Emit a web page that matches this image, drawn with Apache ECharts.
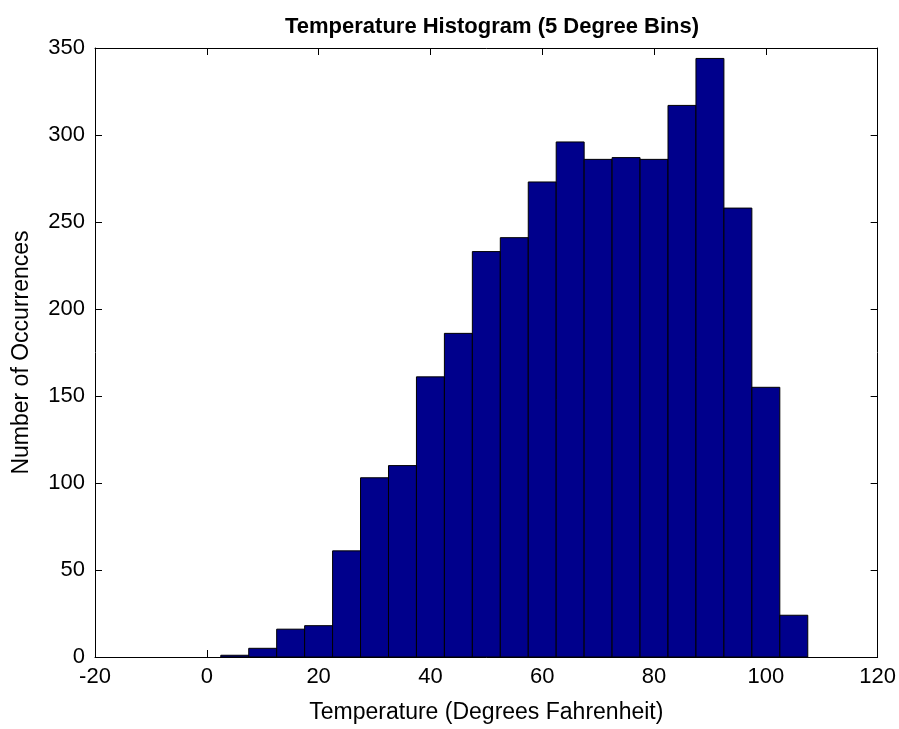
<!DOCTYPE html>
<html><head><meta charset="utf-8">
<script src="https://cdn.jsdelivr.net/npm/echarts@6/dist/echarts.min.js"></script>
<style>html,body{margin:0;padding:0;background:#fff}#c{width:899px;height:729px}</style>
</head><body><div id="c"></div>
<script>
const binCenters = [5,10,15,20,25,30,35,40,45,50,55,60,65,70,75,80,85,90,95,100,105];
const counts = [1,5,16,18,61,103,110,161,186,233,241,273,296,286,287,286,317,344,258,155,24];
const binWidth = 5;
const xTicks = [-20,0,20,40,60,80,100,120];
const yTicks = [0,50,100,150,200,250,300,350];

const chart = echarts.init(document.getElementById('c'));
const FONT = 'Liberation Sans';
const lbl = {color:'#000', fontFamily:FONT, fontSize:22};
const line = {show:true, onZero:false, lineStyle:{color:'#000', width:1}};
const tick = {show:true, inside:true, length:7, lineStyle:{color:'#000', width:1}};
chart.setOption({
  animation:false,
  backgroundColor:'#fff',
  title:{text:'Temperature Histogram (5 Degree Bins)', left:487, textAlign:'center', top:11,
    textStyle:{fontFamily:FONT, fontWeight:'bold', fontSize:22, color:'#000'}},
  grid:{left:95, right:20, top:48, bottom:65, containLabel:false},
  xAxis:[
    {type:'value', min:-20, max:120, interval:20, position:'bottom',
     axisLine:line, axisTick:tick, splitLine:{show:false},
     axisLabel:Object.assign({margin:9}, lbl),
     name:'Temperature (Degrees Fahrenheit)', nameLocation:'middle', nameGap:44,
     nameTextStyle:{color:'#000', fontFamily:FONT, fontSize:23}},
    {type:'value', min:-20, max:120, interval:20, position:'top',
     axisLine:line, axisTick:tick, splitLine:{show:false}, axisLabel:{show:false}}
  ],
  yAxis:[
    {type:'value', min:0, max:350, interval:50, position:'left',
     axisLine:line, axisTick:tick, splitLine:{show:false},
     axisLabel:Object.assign({margin:10}, lbl),
     name:'Number of Occurrences', nameLocation:'middle', nameGap:62, nameRotate:90,
     nameTextStyle:{color:'#000', fontFamily:FONT, fontSize:23}},
    {type:'value', min:0, max:350, interval:50, position:'right',
     axisLine:line, axisTick:tick, splitLine:{show:false}, axisLabel:{show:false}}
  ],
  series:[{
    type:'custom',
    xAxisIndex:0, yAxisIndex:0,
    data: binCenters.map((c,i)=>[c, counts[i]]),
    renderItem:function(params, api){
      const c = api.value(0), v = api.value(1);
      const p0 = api.coord([c - binWidth/2, 0]);
      const p1 = api.coord([c + binWidth/2, v]);
      return {type:'rect', shape:{x:p0[0], y:p1[1], width:p1[0]-p0[0], height:p0[1]-p1[1]},
        style:{fill:'#00008c', stroke:'#000', lineWidth:1}};
    },
    encode:{x:0, y:1}
  }]
});
</script></body></html>
